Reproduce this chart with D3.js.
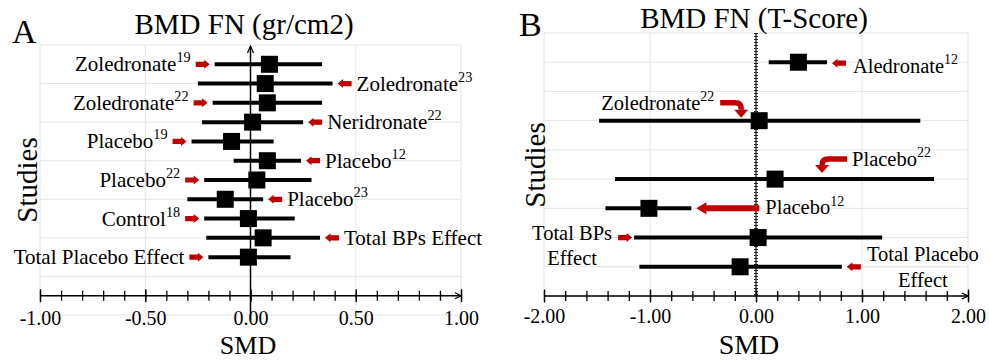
<!DOCTYPE html>
<html>
<head>
<meta charset="utf-8">
<script src="https://cdn.jsdelivr.net/npm/d3@7"></script>
<style>
  body { margin: 0; background: #fff; }
</style>
</head>
<body>
<svg id="chart" width="989" height="360"></svg>
<script>
// Panel A - BMD FN (gr/cm2)
const studiesA = ["Zoledronate", "Zoledronate", "Zoledronate", "Neridronate", "Placebo", "Placebo",
  "Placebo", "Placebo", "Control", "Total BPs Effect", "Total Placebo Effect"];
const refsA = ["19", "23", "22", "22", "19", "12", "22", "23", "18", "", ""];
const smdA = [0.09, 0.07, 0.08, 0.01, -0.09, 0.08, 0.03, -0.12, -0.01, 0.06, -0.01];
const lowerA = [-0.17, -0.25, -0.18, -0.23, -0.28, -0.08, -0.22, -0.30, -0.22, -0.21, -0.20];
const upperA = [0.34, 0.39, 0.34, 0.25, 0.11, 0.24, 0.29, 0.06, 0.21, 0.33, 0.19];
const ticksA = [-1, -0.5, 0, 0.5, 1];

// Panel B - BMD FN (T-Score)
const studiesB = ["Aledronate", "Zoledronate", "Placebo", "Placebo", "Total BPs Effect", "Total Placebo Effect"];
const refsB = ["12", "22", "22", "12", "", ""];
const slotsB = [1, 3, 5, 6, 7, 8];
const smdB = [0.40, 0.03, 0.18, -1.01, 0.02, -0.15];
const lowerB = [0.12, -1.48, -1.33, -1.42, -1.15, -1.10];
const upperB = [0.67, 1.55, 1.68, -0.61, 1.19, 0.81];
const ticksB = [-2, -1, 0, 1, 2];

const svg = d3.select("#chart");
const RED = "#c00000";
const GRID = "#e4e4e4";
const FONT = '"Liberation Serif", "Times New Roman", Tinos, "DejaVu Serif", serif';

function addText(g, x, y, str, size, anchor) {
  return g.append("text")
    .attr("x", x).attr("y", y)
    .attr("font-family", FONT)
    .attr("font-size", size)
    .attr("text-anchor", anchor || "start")
    .text(str);
}

// study name with superscript reference number
function studyLabel(g, x, y, name, ref, size, anchor) {
  const t = g.append("text")
    .attr("x", x).attr("y", y)
    .attr("font-family", FONT)
    .attr("font-size", size)
    .attr("text-anchor", anchor);
  t.append("tspan").text(name);
  if (ref) {
    t.append("tspan").attr("font-size", size * 0.68).attr("dy", -size * 0.43).text(ref);
  }
  return t;
}

// small block arrow, dir = +1 points right, -1 points left
function blockArrow(g, xTip, yc, dir, len, hl, hh, sh) {
  len = len || 14; hl = hl || 5.5; hh = hh || 4.5; sh = sh || 2.6;
  const s = dir;
  const pts = [
    [xTip, yc], [xTip - s * hl, yc - hh], [xTip - s * hl, yc - sh], [xTip - s * len, yc - sh],
    [xTip - s * len, yc + sh], [xTip - s * hl, yc + sh], [xTip - s * hl, yc + hh]
  ];
  g.append("path").attr("d", "M" + pts.join("L") + "Z").attr("fill", RED);
}

// horizontal tail bending downwards into an arrow head
function bentArrow(g, xTail, yTail, xTip, yTip) {
  const s = Math.sign(xTip - xTail);
  const r = 6, head = 8, hw = 7;
  const yNeck = yTip - head;
  g.append("path")
    .attr("d", `M${xTail},${yTail} H${xTip - s * r} Q${xTip},${yTail} ${xTip},${yTail + r} V${Math.max(yNeck, yTail + r)}`)
    .attr("fill", "none").attr("stroke", RED).attr("stroke-width", 5.5);
  g.append("path")
    .attr("d", `M${xTip - hw},${yNeck} L${xTip + hw},${yNeck} L${xTip},${yTip}Z`)
    .attr("fill", RED);
}

function drawFrame(o) {
  const g = svg.append("g");
  const x = d3.scaleLinear().domain(o.xDomain).range(o.xRange);
  const y = d3.scaleLinear().domain([0, o.slots]).range(o.yRange);

  // gridlines
  g.append("g").selectAll("line").data(d3.range(0, o.slots + 1, o.gridStep)).join("line")
    .attr("x1", o.xRange[0]).attr("x2", o.xRange[1])
    .attr("y1", d => y(d)).attr("y2", d => y(d))
    .attr("stroke", GRID).attr("stroke-width", 1);
  g.append("g").selectAll("line").data(o.ticks).join("line")
    .attr("x1", d => x(d)).attr("x2", d => x(d))
    .attr("y1", o.yRange[0]).attr("y2", o.yRange[1])
    .attr("stroke", GRID).attr("stroke-width", 1);

  const yAxis = y(o.axisAt);

  // minor ticks crossing the axis
  const minor = g.append("g").attr("transform", `translate(0,${yAxis})`)
    .call(d3.axisBottom(x).tickValues(o.minor).tickFormat("").tickSizeOuter(0));
  minor.select(".domain").remove();
  minor.selectAll(".tick line").attr("y1", -5).attr("y2", 5)
    .attr("stroke", "#000").attr("stroke-width", 1.3);

  // major ticks with labels
  const major = g.append("g").attr("transform", `translate(0,${yAxis})`)
    .call(d3.axisBottom(x).tickValues(o.ticks).tickFormat(d => d.toFixed(2)).tickSizeOuter(0));
  major.select(".domain").remove();
  major.attr("font-family", FONT).attr("font-size", 20);
  major.selectAll(".tick line").attr("y1", -6.5).attr("y2", 6.5)
    .attr("stroke", "#000").attr("stroke-width", 1.3);
  major.selectAll(".tick text")
    .attr("y", o.tickLabelOffset).attr("dy", null)
    .attr("fill", "#000");

  // axis line with arrow at the right
  const xEnd = o.xRange[1];
  g.append("line").attr("x1", o.xRange[0]).attr("x2", xEnd)
    .attr("y1", yAxis).attr("y2", yAxis)
    .attr("stroke", "#000").attr("stroke-width", 1.5);
  g.append("path").attr("d", `M${xEnd - 6},${yAxis - 3} L${xEnd},${yAxis} L${xEnd - 6},${yAxis + 3}`)
    .attr("fill", "none").attr("stroke", "#000").attr("stroke-width", 1.3);

  // titles
  addText(g, o.letter[0], o.letter[1], o.letter[2], 34);
  addText(g, o.title[0], o.title[1], o.title[2], 29, "middle");
  addText(g, o.xLabel[0], o.xLabel[1], "SMD", o.xLabel[2], "middle");
  g.append("text")
    .attr("transform", `translate(${o.yLabel[0]},${o.yLabel[1]}) rotate(-90)`)
    .attr("text-anchor", "middle")
    .attr("font-family", FONT).attr("font-size", 29)
    .text("Studies");

  return { g, x, y };
}

function drawMarks(p, rows, smd, lower, upper) {
  const { g, x, y } = p;
  const idx = d3.range(smd.length);
  g.append("g").selectAll("line").data(idx).join("line")
    .attr("x1", i => x(lower[i])).attr("x2", i => x(upper[i]))
    .attr("y1", i => y(rows[i])).attr("y2", i => y(rows[i]))
    .attr("stroke", "#000").attr("stroke-width", 4);
  const sq = 17;
  g.append("g").selectAll("rect").data(idx).join("rect")
    .attr("x", i => x(smd[i]) - sq / 2).attr("y", i => y(rows[i]) - sq / 2)
    .attr("width", sq).attr("height", sq)
    .attr("fill", "#000");
}

// ---------- Panel A ----------
const pA = drawFrame({
  xDomain: [-1, 1], xRange: [40, 461],
  slots: 14, yRange: [45, 315], gridStep: 2, axisAt: 13,
  ticks: ticksA, minor: d3.range(-10, 11).map(i => i / 10),
  tickLabelOffset: 29,
  letter: [12, 43, "A"],
  title: [244, 34, "BMD FN (gr/cm2)"],
  xLabel: [248, 354, 26],
  yLabel: [37, 180]
});
// vertical axis at zero
pA.g.append("line")
  .attr("x1", pA.x(0)).attr("x2", pA.x(0))
  .attr("y1", 47).attr("y2", 320)
  .attr("stroke", "#000").attr("stroke-width", 1.5);
pA.g.append("path")
  .attr("d", `M${pA.x(0) - 3},${53} L${pA.x(0)},${46} L${pA.x(0) + 3},${53}`)
  .attr("fill", "none").attr("stroke", "#000").attr("stroke-width", 1.2);

const rowsA = d3.range(1, smdA.length + 1);
drawMarks(pA, rowsA, smdA, lowerA, upperA);

studiesA.forEach((name, i) => {
  const yc = pA.y(rowsA[i]);
  if (i % 2 === 0) {
    const tip = pA.x(lowerA[i]) - 5;
    blockArrow(pA.g, tip, yc, 1);
    studyLabel(pA.g, tip - 19, yc + 7, name, refsA[i], 21, "end");
  } else {
    const tip = pA.x(upperA[i]) + 5;
    blockArrow(pA.g, tip, yc, -1);
    studyLabel(pA.g, tip + 19, yc + 7, name, refsA[i], 21, "start");
  }
});

// ---------- Panel B ----------
const pB = drawFrame({
  xDomain: [-2, 2], xRange: [544, 968],
  slots: 9, yRange: [33, 296], gridStep: 1, axisAt: 9,
  ticks: ticksB, minor: d3.range(-10, 11).map(i => i / 5),
  tickLabelOffset: 27,
  letter: [519, 36, "B"],
  title: [754, 28, "BMD FN (T-Score)"],
  xLabel: [749, 354, 28],
  yLabel: [545, 165]
});
// dotted vertical line at zero
const x0B = pB.x(0);
pB.g.append("line").attr("x1", x0B).attr("x2", x0B).attr("y1", 33).attr("y2", 296)
  .attr("stroke", "#000").attr("stroke-width", 1.1);
pB.g.append("line").attr("x1", x0B).attr("x2", x0B).attr("y1", 33).attr("y2", 296)
  .attr("stroke", "#222").attr("stroke-width", 4).attr("stroke-dasharray", "1,2");

drawMarks(pB, slotsB, smdB, lowerB, upperB);

const fsB = 20.5;
studiesB.forEach((name, i) => {
  const yc = pB.y(slotsB[i]);
  const g = pB.g;
  if (i === 0) {
    const tip = pB.x(upperB[i]) + 5;
    blockArrow(g, tip, yc + 1, -1);
    studyLabel(g, tip + 21, yc + 11, name, refsB[i], fsB, "start");
  } else if (i === 1) {
    const tipX = pB.x(smdB[i]) - 18, tipY = yc - 3;
    bentArrow(g, tipX - 21, yc - 18, tipX, tipY);
    studyLabel(g, tipX - 27, yc - 11, name, refsB[i], fsB, "end");
  } else if (i === 2) {
    const tipX = pB.x(smdB[i]) + 47, tipY = yc - 6;
    bentArrow(g, tipX + 25, yc - 20, tipX, tipY);
    studyLabel(g, tipX + 30, yc - 13, name, refsB[i], fsB, "start");
  } else if (i === 3) {
    const tip = pB.x(upperB[i]) + 5;
    blockArrow(g, tip, yc, -1, 63, 10, 6, 3);
    studyLabel(g, tip + 69, yc + 6, name, refsB[i], fsB, "start");
  } else {
    const words = name.split(" ");
    const first = words.slice(0, -1).join(" "), last = words[words.length - 1];
    if (i === 4) {
      const tip = pB.x(lowerB[i]) - 2;
      blockArrow(g, tip, yc, 1);
      addText(g, tip - 60, yc + 2.5, first, fsB, "middle");
      addText(g, tip - 60, yc + 27.5, last, fsB, "middle");
    } else {
      const tip = pB.x(upperB[i]) + 5;
      blockArrow(g, tip, yc, -1);
      addText(g, tip + 76, yc - 6, first, fsB, "middle");
      addText(g, tip + 76, yc + 20, last, fsB, "middle");
    }
  }
});
</script>
</body>
</html>
